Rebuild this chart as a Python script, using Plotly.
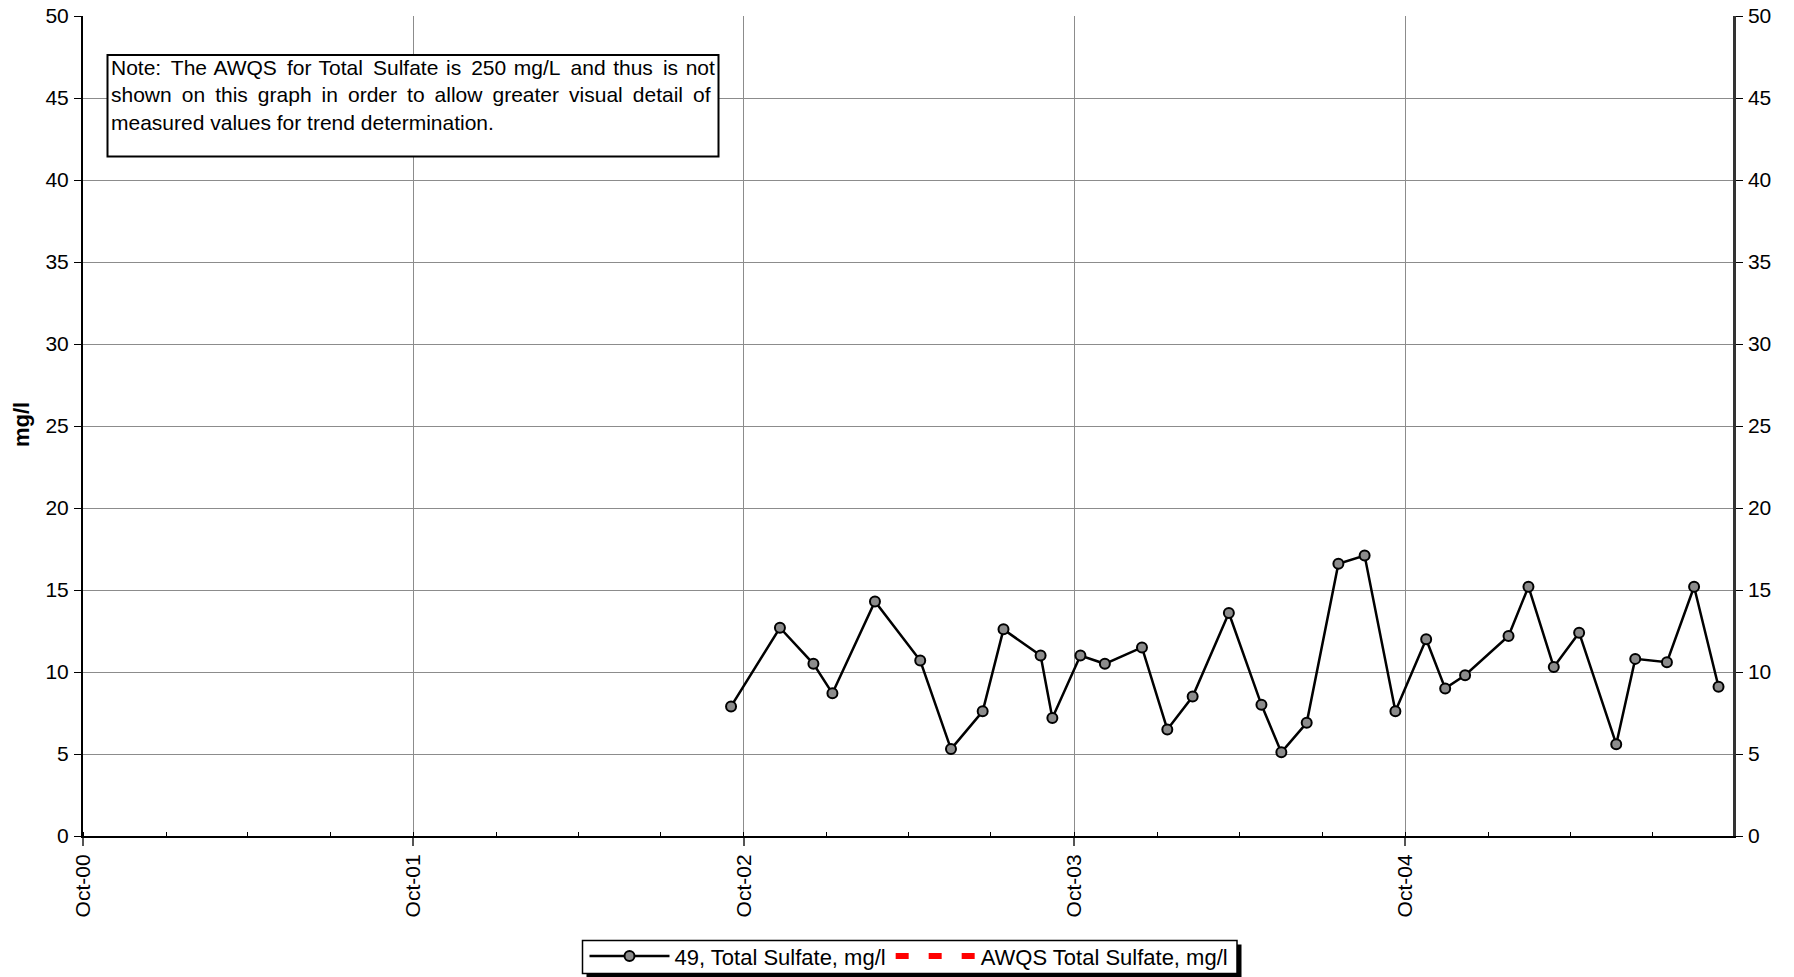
import plotly.graph_objects as go

# ---- data ----
sample_dates = ["2002-09-17", "2002-11-10", "2002-12-17", "2003-01-07", "2003-02-23",
                "2003-04-14", "2003-05-18", "2003-06-22", "2003-07-15", "2003-08-25",
                "2003-09-07", "2003-10-08", "2003-11-04", "2003-12-15", "2004-01-12",
                "2004-02-09", "2004-03-20", "2004-04-25", "2004-05-17", "2004-06-14",
                "2004-07-19", "2004-08-17", "2004-09-20", "2004-10-24", "2004-11-14",
                "2004-12-06", "2005-01-23", "2005-02-14", "2005-03-14", "2005-04-11",
                "2005-05-22", "2005-06-12", "2005-07-17", "2005-08-16", "2005-09-12"]
sulfate_values = [7.9, 12.7, 10.5, 8.7, 14.3,
                  10.7, 5.3, 7.6, 12.6, 11.0,
                  7.2, 11.0, 10.5, 11.5, 6.5,
                  8.5, 13.6, 8.0, 5.1, 6.9,
                  16.6, 17.1, 7.6, 12.0, 9.0,
                  9.8, 12.2, 15.2, 10.3, 12.4,
                  5.6, 10.8, 10.6, 15.2, 9.1]
awqs_dates = ["2000-10-01", "2005-09-28"]
awqs_values = [250, 250]

series_name = "49, Total Sulfate, mg/l"
awqs_name = "AWQS Total Sulfate, mg/l"
y_title = "mg/l"
note_lines = [["Note:", "The", "AWQS", "for", "Total", "Sulfate", "is", "250", "mg/L",
               "and", "thus", "is", "not"],
              ["shown", "on", "this", "graph", "in", "order", "to", "allow", "greater",
               "visual", "detail", "of"],
              ["measured", "values", "for", "trend", "determination."]]

FONT = "Liberation Sans, Arial, sans-serif"
W, H = 1794, 977
L, R, T, B = 83, 61, 16, 141
PW, PH = W - L - R, H - T - B


def px_x(p):                 # page pixel -> paper x
    return (p - L) / PW


def px_y(p):                 # page pixel -> paper y
    return (H - B - p) / PH


fig = go.Figure()
fig.add_trace(go.Scatter(
    x=sample_dates, y=sulfate_values, name=series_name, mode="lines+markers",
    line=dict(color="black", width=2.5),
    marker=dict(symbol="circle", size=10, color="#8c8c8c",
                line=dict(color="black", width=2)),
))
fig.add_trace(go.Scatter(
    x=awqs_dates, y=awqs_values, name=awqs_name, mode="lines", yaxis="y2",
    line=dict(color="#ff0000", width=6, dash="13px,20px"),
))

tickfont = dict(family=FONT, size=21, color="black")
LEG_TEXT_Y = 956
fig.update_layout(
    width=W, height=H,
    margin=dict(l=L, r=R, t=T, b=B, pad=0, autoexpand=False),
    paper_bgcolor="white", plot_bgcolor="white",
    font=dict(family=FONT, size=21, color="black"),
    showlegend=True,
    legend=dict(orientation="h", x=px_x(909), xanchor="center",
                yref="container", y=(H - (LEG_TEXT_Y - 20.8)) / H, yanchor="top",
                bgcolor="rgba(0,0,0,0)", borderwidth=0,
                font=dict(family=FONT, size=22, color="black"),
                itemwidth=80, tracegroupgap=0),
    xaxis=dict(type="date", range=["2000-10-01", "2005-09-28"], automargin=False,
               tick0="2000-10-01", dtick="M12", tickformat="%b-%y", tickangle=-90,
               showgrid=True, gridcolor="#8c8c8c", gridwidth=1,
               showline=True, linecolor="black", linewidth=2,
               ticks="outside", ticklen=8, tickcolor="#555555", tickwidth=1.5,
               ticklabelstandoff=0, ticklabeloverflow="allow",
               minor=dict(dtick="M3", ticks="inside", ticklen=4, tickcolor="black",
                          tickwidth=1, showgrid=False),
               tickfont=tickfont, zeroline=False),
    yaxis=dict(range=[0, 50], dtick=5, tick0=0, automargin=False,
               showgrid=True, gridcolor="#8c8c8c", gridwidth=1,
               showline=True, linecolor="black", linewidth=2,
               ticks="outside", ticklen=7, tickcolor="black",
               ticklabelstandoff=1, ticklabeloverflow="allow",
               tickfont=tickfont, zeroline=False),
    yaxis2=dict(range=[0, 50], dtick=5, tick0=0, overlaying="y", side="right",
                automargin=False,
                showgrid=False, showline=True, linecolor="#333333", linewidth=2.5,
                ticks="outside", ticklen=7, tickcolor="black",
                ticklabelstandoff=1, ticklabeloverflow="allow",
                tickfont=tickfont, zeroline=False),
)

# y-axis title
fig.add_annotation(text="<b>" + y_title + "</b>", xref="paper", yref="paper",
                   x=px_x(21), y=px_y(425), xanchor="center", yanchor="middle",
                   textangle=-90, showarrow=False,
                   font=dict(family=FONT, size=22, color="black"))

# note box
fig.add_shape(type="rect", xref="paper", yref="paper",
              x0=px_x(107.5), x1=px_x(718.5), y0=px_y(156.5), y1=px_y(55),
              line=dict(color="black", width=2), fillcolor="white", layer="above")


def join_line(words, seps):
    out = words[0]
    for i, w in enumerate(words[1:]):
        out += seps[i % len(seps)] + w
    return out


note_text = "<br>".join([
    join_line(note_lines[0], ["\u2009 ", "\u200a "]),
    join_line(note_lines[1], ["\u2009 "]),
    join_line(note_lines[2], [" "]),
])
fig.add_annotation(text=note_text, xref="paper", yref="paper",
                   x=px_x(109), y=px_y(54), xanchor="left", yanchor="top",
                   align="left", showarrow=False,
                   font=dict(family=FONT, size=21, color="black"))

# legend frame with drop shadow
fig.add_shape(type="rect", xref="paper", yref="paper",
              x0=px_x(586.5), x1=px_x(1241.5), y0=px_y(977.5), y1=px_y(944.5),
              line=dict(width=0), fillcolor="black", layer="above")
fig.add_shape(type="rect", xref="paper", yref="paper",
              x0=px_x(582.5), x1=px_x(1237), y0=px_y(973.6), y1=px_y(940.5),
              line=dict(color="black", width=1.5), fillcolor="white", layer="above")

fig.write_html("out.html", config={"displayModeBar": False},
               post_script="document.body.style.margin='0px';")
